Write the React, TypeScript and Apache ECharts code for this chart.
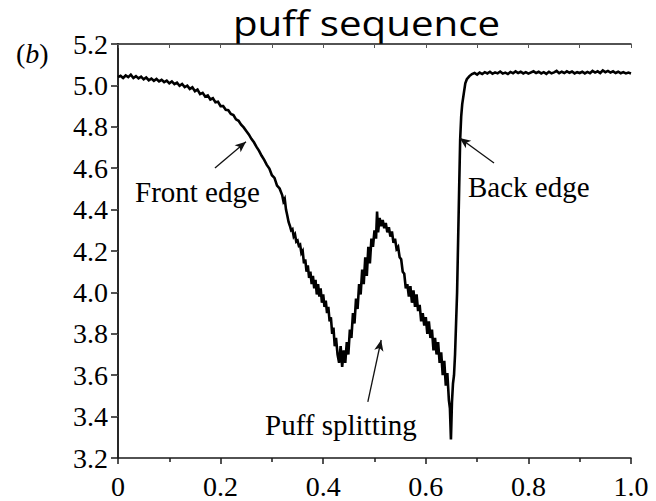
import React, { useEffect, useRef } from "react";
import * as echarts from "echarts";

const xTicks = [0, 0.2, 0.4, 0.6, 0.8, 1.0];
const yTicks = [3.2, 3.4, 3.6, 3.8, 4.0, 4.2, 4.4, 4.6, 4.8, 5.0, 5.2];

const sampleX = [
  0.000, 0.005, 0.010, 0.015, 0.020, 0.025, 0.030, 0.035, 0.040, 0.045,
  0.050, 0.055, 0.060, 0.065, 0.070, 0.075, 0.080, 0.085, 0.090, 0.095,
  0.100, 0.105, 0.110, 0.115, 0.120, 0.125, 0.130, 0.135, 0.140, 0.145,
  0.150, 0.155, 0.160, 0.165, 0.170, 0.175, 0.180, 0.185, 0.190, 0.195,
  0.200, 0.205, 0.210, 0.215, 0.220, 0.225, 0.230, 0.235, 0.240, 0.245,
  0.250, 0.255, 0.260, 0.265, 0.270, 0.275, 0.280, 0.285, 0.290, 0.295,
  0.300, 0.305, 0.310, 0.315,
  0.3200, 0.3225, 0.3250, 0.3275, 0.3300, 0.3325, 0.3350, 0.3375, 0.3400, 0.3425,
  0.3450, 0.3475, 0.3500, 0.3525, 0.3550, 0.3575, 0.3600, 0.3625, 0.3650, 0.3675,
  0.3700, 0.3725, 0.3750, 0.3775, 0.3800, 0.3825, 0.3850, 0.3875, 0.3900, 0.3925,
  0.3950, 0.3975, 0.4000, 0.4025, 0.4050, 0.4075, 0.4100, 0.4125, 0.4150, 0.4175,
  0.4200, 0.4225, 0.4250,
  0.428, 0.431, 0.434, 0.437,
  0.440, 0.443, 0.446, 0.449, 0.452, 0.455, 0.458, 0.461, 0.464, 0.467,
  0.470, 0.473, 0.476, 0.479, 0.482, 0.485, 0.488, 0.491, 0.494, 0.497,
  0.500, 0.503, 0.505, 0.507, 0.510, 0.513, 0.516, 0.519, 0.522, 0.525,
  0.528, 0.531, 0.534, 0.537, 0.540, 0.543, 0.546, 0.549, 0.552, 0.555,
  0.558, 0.561, 0.564, 0.567, 0.570, 0.573, 0.576, 0.579, 0.582, 0.585,
  0.588, 0.591, 0.594, 0.597, 0.600, 0.603, 0.606, 0.609, 0.612, 0.615,
  0.618, 0.621, 0.624, 0.627, 0.630, 0.633, 0.636, 0.639, 0.642, 0.645,
  0.647, 0.649, 0.651, 0.653, 0.655, 0.657, 0.659, 0.661, 0.663, 0.665,
  0.667, 0.669, 0.671, 0.674, 0.677, 0.680, 0.685, 0.690, 0.695, 0.700,
  0.705, 0.710, 0.715, 0.720, 0.725, 0.730, 0.735, 0.740, 0.745, 0.750,
  0.755, 0.760, 0.765, 0.770, 0.775, 0.780, 0.785, 0.790, 0.795, 0.800,
  0.810, 0.815, 0.820, 0.825, 0.830, 0.835, 0.840, 0.845, 0.850, 0.855,
  0.860, 0.865, 0.870, 0.875, 0.880, 0.885, 0.890, 0.895, 0.900, 0.905,
  0.910, 0.915, 0.920, 0.925, 0.930, 0.935, 0.940, 0.945, 0.950, 0.955,
  0.960, 0.965, 0.970, 0.975, 0.980, 0.985, 0.990, 0.995, 1.000,
];

const sampleY = [
  5.040, 5.046, 5.036, 5.048, 5.040, 5.052, 5.036, 5.045, 5.034, 5.042,
  5.029, 5.038, 5.025, 5.033, 5.022, 5.031, 5.019, 5.027, 5.016, 5.023,
  5.010, 5.019, 5.006, 5.013, 4.998, 5.007, 4.992, 4.999, 4.983, 4.991,
  4.972, 4.980, 4.958, 4.964, 4.946, 4.952, 4.932, 4.938, 4.918, 4.921,
  4.900, 4.900, 4.882, 4.880, 4.862, 4.857, 4.836, 4.829, 4.810, 4.797,
  4.780, 4.763, 4.742, 4.725, 4.703, 4.684, 4.660, 4.640, 4.616, 4.598,
  4.566, 4.553, 4.516, 4.502,
  4.470, 4.440, 4.452, 4.400, 4.372, 4.340, 4.322, 4.300, 4.305, 4.270,
  4.280, 4.245, 4.250, 4.225, 4.230, 4.190, 4.200, 4.140, 4.160, 4.100,
  4.130, 4.070, 4.100, 4.040, 4.080, 4.020, 4.060, 3.990, 4.040, 3.980,
  4.020, 3.950, 3.990, 3.930, 3.960, 3.900, 3.930, 3.860, 3.880, 3.800,
  3.830, 3.740, 3.780,
  3.700, 3.660, 3.740, 3.640,
  3.720, 3.660, 3.760, 3.700, 3.820, 3.780, 3.900, 3.850, 3.970, 3.920,
  4.040, 3.990, 4.110, 4.040, 4.170, 4.080, 4.220, 4.140, 4.260, 4.220,
  4.300, 4.260, 4.390, 4.290, 4.360, 4.320, 4.350, 4.310, 4.335, 4.290,
  4.315, 4.270, 4.295, 4.240, 4.260, 4.210, 4.220, 4.170, 4.160, 4.100,
  4.090, 4.020, 4.040, 3.980, 4.030, 3.950, 4.010, 3.930, 3.990, 3.910,
  3.940, 3.860, 3.900, 3.840, 3.880, 3.800, 3.860, 3.780, 3.820, 3.720,
  3.780, 3.700, 3.760, 3.660, 3.710, 3.600, 3.670, 3.550, 3.610, 3.480,
  3.440, 3.290, 3.470, 3.560, 3.600, 3.700, 3.850, 4.000, 4.250, 4.500,
  4.740, 4.850, 4.910, 4.960, 5.010, 5.030, 5.045, 5.055, 5.060, 5.052,
  5.062, 5.055, 5.064, 5.058, 5.066, 5.056, 5.063, 5.058, 5.067, 5.057,
  5.062, 5.055, 5.065, 5.059, 5.068, 5.060, 5.066, 5.058, 5.064, 5.057,
  5.068, 5.060, 5.066, 5.058, 5.064, 5.056, 5.066, 5.058, 5.063, 5.070,
  5.059, 5.066, 5.060, 5.068, 5.061, 5.067, 5.058, 5.064, 5.060, 5.066,
  5.058, 5.065, 5.059, 5.070, 5.062, 5.068, 5.060, 5.072, 5.064, 5.070,
  5.062, 5.068, 5.060, 5.066, 5.059, 5.064, 5.058, 5.062, 5.058,
];

const annotationLabels = ["Front edge", "Back edge", "Puff splitting"];
// arrow tail -> head, in data units
const arrowFrom = [[0.189, 4.601], [0.733, 4.625], [0.487, 3.471]];
const arrowTo = [[0.2495, 4.728], [0.666, 4.746], [0.513, 3.77]];

const SERIF = "'Liberation Serif', 'Times New Roman', serif";

export default function App() {
  const ref = useRef<HTMLDivElement>(null);
  useEffect(() => {
    if (!ref.current) return;
    const chart = echarts.init(ref.current, null, { renderer: "svg" });
    const data = sampleX.map((x, i) => [x, sampleY[i]]);
    const fmt = (v: number) => (Math.abs(v) < 1e-9 ? "0" : v.toFixed(1));
    const axisLine = { show: true, lineStyle: { color: "#1a1a1a", width: 1.5 } };
    chart.setOption({
      animation: false,
      backgroundColor: "#ffffff",
      grid: { left: 118, top: 44, right: 25, bottom: 43, containLabel: false },
      xAxis: [
        {
          type: "value", position: "bottom", min: 0, max: 1, interval: 0.2,
          axisLine, splitLine: { show: false },
          axisTick: { show: true, inside: false, length: 6, lineStyle: { color: "#1a1a1a", width: 1.5 } },
          minorTick: { show: true, splitNumber: 2, length: 4, lineStyle: { color: "#1a1a1a", width: 1.5 } },
          axisLabel: {
            formatter: (v: number) => (xTicks.some((t) => Math.abs(t - v) < 1e-9) ? fmt(v) : ""),
            color: "#000", fontFamily: SERIF, fontSize: 28, margin: 14,
          },
        },
        {
          type: "value", position: "top", min: 0, max: 1, interval: 0.2,
          axisLine, splitLine: { show: false },
          axisTick: { show: true, inside: true, length: 4, lineStyle: { color: "#555", width: 1 } },
          minorTick: { show: true, splitNumber: 2, length: 4, lineStyle: { color: "#555", width: 1 } },
          axisLabel: { show: false },
        },
      ],
      yAxis: [
        {
          type: "value", position: "left", min: 3.2, max: 5.2, interval: 0.2,
          axisLine, splitLine: { show: false },
          axisTick: { show: true, inside: false, length: 7, lineStyle: { color: "#1a1a1a", width: 1.5 } },
          axisLabel: {
            formatter: (v: number) => (yTicks.some((t) => Math.abs(t - v) < 1e-9) ? v.toFixed(1) : ""),
            color: "#000", fontFamily: SERIF, fontSize: 28, margin: 10,
          },
        },
        {
          type: "value", position: "right", min: 3.2, max: 5.2, interval: 0.2,
          axisLine, splitLine: { show: false },
          axisTick: { show: true, inside: true, length: 4, lineStyle: { color: "#555", width: 1 } },
          axisLabel: { show: false },
        },
      ],
      series: [
        {
          type: "line",
          data,
          showSymbol: false,
          symbol: "none",
          lineStyle: { color: "#000", width: 2.6, join: "miter" },
          markLine: {
            silent: true,
            symbol: ["none", "arrow"],
            symbolSize: [7, 11],
            label: { show: false },
            lineStyle: { color: "#111", width: 1.3, type: "solid" },
            data: arrowFrom.map((f, i) => [
              { coord: f },
              { coord: arrowTo[i] },
            ]),
          },
        },
      ],
      graphic: [
        {
          type: "text", left: 233, top: 5,
          style: { text: "puff sequence", font: "35px 'Open Sans', sans-serif", fill: "#000" },
          scaleX: 1.15,
        },
        {
          type: "text", left: 16, top: 39,
          style: {
            text: "({b|b})",
            font: `28px ${SERIF}`,
            fill: "#000",
            rich: { b: { fontStyle: "italic", fontFamily: SERIF, fontSize: 28 } },
          },
        },
        {
          type: "text", left: 135, top: 177,
          style: { text: annotationLabels[0], font: `29px ${SERIF}`, fill: "#000" },
        },
        {
          type: "text", left: 468, top: 172,
          style: { text: annotationLabels[1], font: `29px ${SERIF}`, fill: "#000" },
        },
        {
          type: "text", left: 265, top: 410,
          style: { text: annotationLabels[2], font: `29px ${SERIF}`, fill: "#000" },
        },
      ],
    });
    return () => chart.dispose();
  }, []);
  return <div ref={ref} style={{ width: 656, height: 501, position: "absolute", left: 0, top: 0 }} />;
}
